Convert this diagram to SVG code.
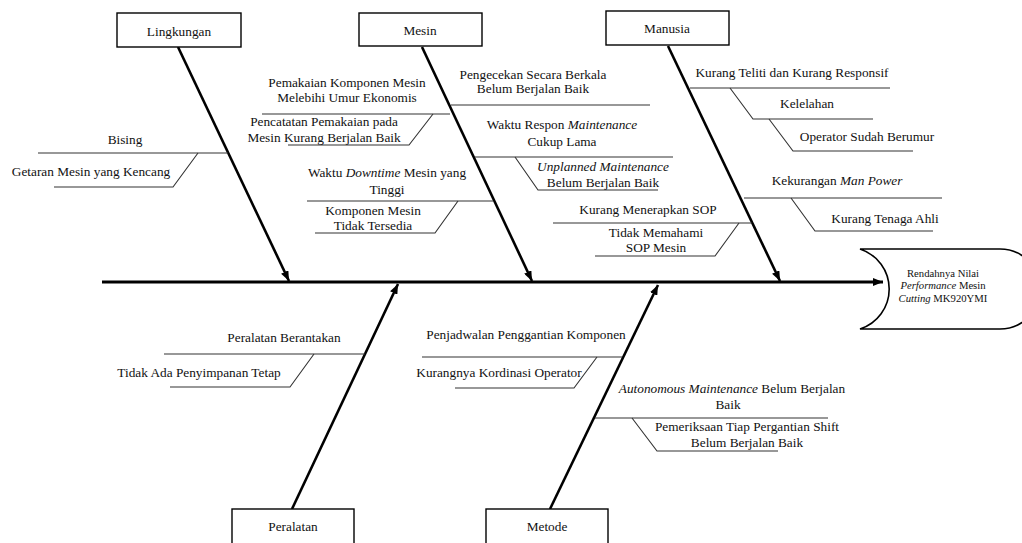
<svg xmlns="http://www.w3.org/2000/svg" width="1022" height="543" viewBox="0 0 1022 543">
<defs>
<marker id="arr" markerUnits="userSpaceOnUse" markerWidth="10" markerHeight="8" viewBox="0 0 10 8" refX="10" refY="4" orient="auto">
<path d="M0,0 L10,4 L0,8 z" fill="#000"/>
</marker>
<style>
.box{fill:#fff;stroke:#000;stroke-width:1.4}
.lbl{font-family:"Liberation Serif","Times New Roman",serif;font-size:13.3px;fill:#111;text-anchor:middle}
.hd{font-family:"Liberation Serif","Times New Roman",serif;font-size:10.7px;fill:#111;text-anchor:middle}
.sub{fill:none;stroke:#333;stroke-width:1.1}
.bone{fill:none;stroke:#000;stroke-width:2.6;marker-end:url(#arr)}
.spine{fill:none;stroke:#000;stroke-width:3;marker-end:url(#arr)}
i,.it{font-style:italic}
</style>
</defs>
<rect width="1022" height="543" fill="#fff"/>

<g id="connectors">
<line class="spine" x1="102" y1="282" x2="883" y2="282"/>
<line class="bone" x1="178" y1="47" x2="289" y2="281"/>
<line class="bone" x1="422" y1="47" x2="532" y2="281"/>
<line class="bone" x1="668" y1="46" x2="780" y2="281"/>
<line class="bone" x1="292" y1="509" x2="398" y2="284"/>
<line class="bone" x1="550" y1="509" x2="658" y2="285"/>
</g>

<g id="head">
<path d="M860,249 A42,42 0 0 1 860,329 L1000,329 A40,40 0 0 0 1000,249 Z" fill="#fff" stroke="#000" stroke-width="1.6" transform="translate(0,0)"/>
<text class="hd" x="943" y="277">Rendahnya Nilai</text>
<text class="hd" x="943" y="289"><tspan class="it">Performance</tspan> Mesin</text>
<text class="hd" x="943" y="302"><tspan class="it">Cutting</tspan> MK920YMI</text>
</g>

<g id="lingkungan">
<rect class="box" x="117" y="13" width="124" height="34"/>
<text class="lbl" x="179" y="36">Lingkungan</text>
<path class="sub" d="M38,153 H228"/>
<text class="lbl" x="125" y="144">Bising</text>
<path class="sub" d="M198,153 L173,187 H54"/>
<text class="lbl" x="91" y="176">Getaran Mesin yang Kencang</text>
</g>

<g id="mesin">
<rect class="box" x="359" y="13" width="123" height="33"/>
<text class="lbl" x="420" y="35">Mesin</text>
<path class="sub" d="M262,114 H450"/>
<text class="lbl" x="347" y="87">Pemakaian Komponen Mesin</text>
<text class="lbl" x="347" y="102">Melebihi Umur Ekonomis</text>
<path class="sub" d="M433,114 L409,145 H288"/>
<text class="lbl" x="324" y="126">Pencatatan Pemakaian pada</text>
<text class="lbl" x="324" y="142">Mesin Kurang Berjalan Baik</text>
<path class="sub" d="M451,105 H650"/>
<text class="lbl" x="533" y="79">Pengecekan Secara Berkala</text>
<text class="lbl" x="533" y="93">Belum Berjalan Baik</text>
<path class="sub" d="M475,157 H673"/>
<text class="lbl" x="562" y="129">Waktu Respon <tspan class="it">Maintenance</tspan></text>
<text class="lbl" x="562" y="146">Cukup Lama</text>
<path class="sub" d="M515,157 L538,190 H658"/>
<text class="lbl" x="603" y="171"><tspan class="it">Unplanned Maintenance</tspan></text>
<text class="lbl" x="603" y="187">Belum Berjalan Baik</text>
<path class="sub" d="M307,201 H493"/>
<text class="lbl" x="387" y="177">Waktu <tspan class="it">Downtime</tspan> Mesin yang</text>
<text class="lbl" x="387" y="194">Tinggi</text>
<path class="sub" d="M458,201 L435,233 H315"/>
<text class="lbl" x="373" y="215">Komponen Mesin</text>
<text class="lbl" x="373" y="230">Tidak Tersedia</text>
</g>

<g id="manusia">
<rect class="box" x="606" y="11" width="123" height="34"/>
<text class="lbl" x="667" y="33">Manusia</text>
<path class="sub" d="M690,88 H890"/>
<text class="lbl" x="792" y="77">Kurang Teliti dan Kurang Responsif</text>
<path class="sub" d="M730,88 L753,119 H873"/>
<text class="lbl" x="807" y="108">Kelelahan</text>
<path class="sub" d="M769,119 L793,151 H913"/>
<text class="lbl" x="867" y="141">Operator Sudah Berumur</text>
<path class="sub" d="M744,198 H942"/>
<text class="lbl" x="837" y="185">Kekurangan <tspan class="it">Man Power</tspan></text>
<path class="sub" d="M791,198 L815,231 H933"/>
<text class="lbl" x="885" y="223">Kurang Tenaga Ahli</text>
<path class="sub" d="M553,223 H752"/>
<text class="lbl" x="648" y="214">Kurang Menerapkan SOP</text>
<path class="sub" d="M739,223 L715,256 H595"/>
<text class="lbl" x="656" y="237">Tidak Memahami</text>
<text class="lbl" x="656" y="252">SOP Mesin</text>
</g>

<g id="peralatan">
<rect class="box" x="232" y="509" width="122" height="44"/>
<text class="lbl" x="293" y="531">Peralatan</text>
<path class="sub" d="M164,354 H365"/>
<text class="lbl" x="284" y="342">Peralatan Berantakan</text>
<path class="sub" d="M314,354 L290,387 H170"/>
<text class="lbl" x="199" y="377">Tidak Ada Penyimpanan Tetap</text>
</g>

<g id="metode">
<rect class="box" x="486" y="509" width="122" height="44"/>
<text class="lbl" x="547" y="531">Metode</text>
<path class="sub" d="M422,357 H622"/>
<text class="lbl" x="526" y="339">Penjadwalan Penggantian Komponen</text>
<path class="sub" d="M597,357 L574,388 H455"/>
<text class="lbl" x="499" y="377">Kurangnya Kordinasi Operator</text>
<path class="sub" d="M595,418 H828"/>
<text class="lbl" x="732" y="393"><tspan class="it">Autonomous Maintenance</tspan> Belum Berjalan</text>
<text class="lbl" x="728" y="409">Baik</text>
<path class="sub" d="M632,418 L657,451 H778"/>
<text class="lbl" x="747" y="431">Pemeriksaan Tiap Pergantian Shift</text>
<text class="lbl" x="747" y="447">Belum Berjalan Baik</text>
</g>
</svg>
